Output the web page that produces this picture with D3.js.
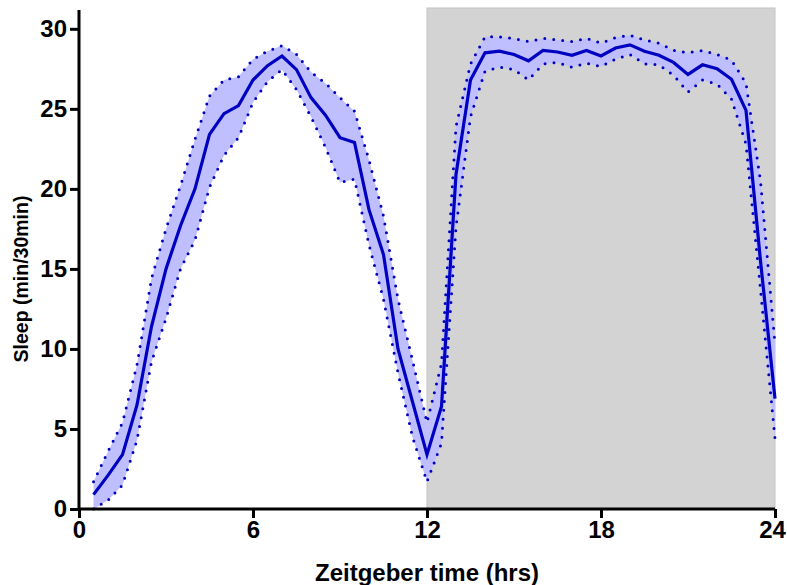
<!DOCTYPE html>
<html>
<head>
<meta charset="utf-8">
<script src="https://cdn.jsdelivr.net/npm/d3@7"></script>
<style>
  html, body { margin: 0; padding: 0; background: #fff; }
  svg { display: block; }
  text { font-family: "Liberation Sans", Arial, sans-serif; font-weight: bold; fill: #000; }
</style>
</head>
<body>
<svg id="chart" width="787" height="585"></svg>
<script>
// Zeitgeber time of each half-hour bin (hrs)
const hours = [0.5, 1, 1.5, 2, 2.5, 3, 3.5, 4, 4.5, 5, 5.5, 6,
               6.5, 7, 7.5, 8, 8.5, 9, 9.5, 10, 10.5, 11, 11.5, 12,
               12.5, 13, 13.5, 14, 14.5, 15, 15.5, 16, 16.5, 17, 17.5, 18,
               18.5, 19, 19.5, 20, 20.5, 21, 21.5, 22, 22.5, 23, 23.5, 24];

// Mean sleep per bin (min/30min)
const meanSleep = [0.9, 2.1, 3.4, 6.5, 11.4, 15.0, 17.7, 20.0, 23.4, 24.7, 25.2, 26.8,
                   27.7, 28.3, 27.45, 25.7, 24.6, 23.2, 22.9, 18.7, 15.9, 10.0, 6.7, 3.4,
                   6.4, 20.9, 26.8, 28.5, 28.6, 28.4, 28.0, 28.65, 28.55, 28.35, 28.65, 28.3,
                   28.8, 29.0, 28.6, 28.35, 27.9, 27.15, 27.75, 27.5, 26.85, 24.9, 15.5, 6.9];

// Upper edge of the error band
const upperSleep = [1.7, 3.6, 5.4, 9.0, 14.4, 17.5, 20.2, 23.1, 25.8, 26.8, 27.0, 28.1,
                    28.6, 28.95, 28.4, 27.3, 26.6, 25.7, 24.85, 21.8, 18.3, 13.1, 9.3, 5.4,
                    9.1, 23.9, 27.8, 29.5, 29.5, 29.4, 29.2, 29.4, 29.3, 29.2, 29.4, 29.1,
                    29.45, 29.6, 29.3, 29.1, 28.65, 28.5, 28.65, 28.4, 28.05, 26.6, 20.5, 10.3];

// Lower edge of the error band
const lowerSleep = [0.0, 0.55, 1.5, 4.3, 9.2, 11.9, 15.0, 16.8, 20.1, 22.1, 23.2, 25.4,
                    26.7, 27.45, 26.2, 24.5, 22.6, 20.4, 20.6, 16.5, 13.1, 8.5, 4.5, 1.7,
                    4.1, 17.6, 24.5, 27.35, 27.6, 27.45, 26.8, 27.8, 27.9, 27.6, 27.85, 27.65,
                    28.1, 28.4, 27.8, 27.75, 27.1, 26.05, 26.8, 26.55, 25.6, 22.8, 13.7, 4.4];

const xTicks = [0, 6, 12, 18, 24];
const yTicks = [0, 5, 10, 15, 20, 25, 30];
const darkPhase = [12, 24];   // lights-off interval (hrs)
const yTop = 31.3;            // top of the plotting area (min/30min)

const rows = hours.map((h, i) => ({ h, m: meanSleep[i], hi: upperSleep[i], lo: lowerSleep[i] }));

const svg = d3.select("#chart");
const plotLeft = 79, plotRight = 775, plotTop = 8, plotBottom = 509;

const x = d3.scaleLinear().domain([0, 24]).range([plotLeft, plotRight]);
const y = d3.scaleLinear().domain([0, yTop]).range([plotBottom, plotTop]);

// Dark phase shading
svg.append("rect")
  .attr("x", x(darkPhase[0]))
  .attr("y", y(yTop))
  .attr("width", x(darkPhase[1]) - x(darkPhase[0]))
  .attr("height", y(0) - y(yTop))
  .attr("fill", "#d3d3d3")
  .attr("stroke", "#c4c4c4")
  .attr("stroke-width", 1);

// Error band
svg.append("path")
  .datum(rows)
  .attr("fill", "#bfbfff")
  .attr("d", d3.area().x(d => x(d.h)).y0(d => y(d.lo)).y1(d => y(d.hi)));

// Dotted band edges
const edge = key => d3.line().x(d => x(d.h)).y(d => y(d[key]));
["hi", "lo"].forEach(k => {
  svg.append("path")
    .datum(rows)
    .attr("fill", "none")
    .attr("stroke", "#0000c0")
    .attr("stroke-width", 3)
    .attr("stroke-linecap", "round")
    .attr("stroke-dasharray", "0 9")
    .attr("d", edge(k));
});

// Mean line
svg.append("path")
  .datum(rows)
  .attr("fill", "none")
  .attr("stroke", "#0000c0")
  .attr("stroke-width", 3.2)
  .attr("stroke-linejoin", "miter")
  .attr("d", edge("m"));

// Axes
const xAxis = svg.append("g")
  .attr("transform", `translate(0,${plotBottom})`)
  .call(d3.axisBottom(x).tickValues(xTicks).tickSize(9).tickPadding(3).tickFormat(d3.format("d")));
const yAxis = svg.append("g")
  .attr("transform", `translate(${plotLeft},0)`)
  .call(d3.axisLeft(y).tickValues(yTicks).tickSize(9).tickPadding(3).tickFormat(d3.format("d")));

[xAxis, yAxis].forEach(g => {
  g.select(".domain").attr("stroke", "#000").attr("stroke-width", 3);
  g.selectAll(".tick line").attr("stroke", "#000").attr("stroke-width", 3);
  g.selectAll(".tick text").style("font-size", "24px").attr("fill", "#000")
    .style("font-family", "'Liberation Sans', Arial, sans-serif").style("font-weight", "bold");
});
// keep the last hour label inside the canvas
xAxis.selectAll(".tick text").filter(d => d === 24).attr("dx", -3);
xAxis.select(".domain").attr("d", `M${plotLeft},0H${plotRight}`);
yAxis.select(".domain").attr("d", `M0,${plotTop + 2}V${plotBottom}`);

// Axis titles
svg.append("text")
  .attr("x", 427).attr("y", 581)
  .attr("text-anchor", "middle")
  .style("font-size", "24px")
  .text("Zeitgeber time (hrs)");

svg.append("text")
  .attr("transform", "translate(28,279) rotate(-90)")
  .attr("text-anchor", "middle")
  .style("font-size", "19.5px")
  .text("Sleep (min/30min)");
</script>
</body>
</html>
